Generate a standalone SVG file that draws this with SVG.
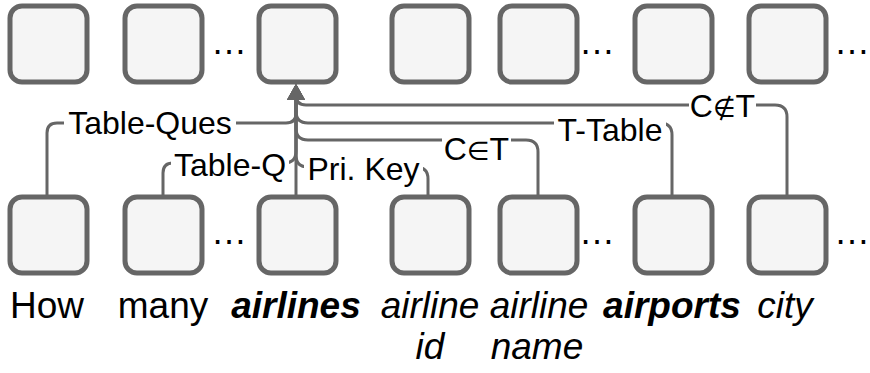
<svg xmlns="http://www.w3.org/2000/svg" width="870" height="373" viewBox="0 0 870 373">
<style>
.box{fill:#f5f5f5;stroke:#666666;stroke-width:5}
.edge{fill:none;stroke:#666666;stroke-width:3;marker-end:url(#arr)}
.lbl{font-family:"Liberation Sans","DejaVu Sans",Arial,sans-serif;font-size:32px;fill:#000;text-anchor:middle}
.sym{font-family:"DejaVu Sans",sans-serif;font-size:26px}
.bg{fill:#ffffff}
.dots{font-family:"Liberation Sans",Arial,sans-serif;font-size:36px;fill:#000}
.word{font-family:"Liberation Sans",Arial,sans-serif;font-size:37px;fill:#000;text-anchor:middle}
.it{font-style:italic}
.bi{font-style:italic;font-weight:bold}
</style>
<defs>
<marker id="arr" markerUnits="userSpaceOnUse" markerWidth="18" markerHeight="18" refX="8" refY="9" orient="auto" viewBox="0 0 16 18">
<path d="M0,0 L16,9 L0,18 z" fill="#666666"/>
</marker>
</defs>
<g id="top-row">
<g id="t1"><rect class="box" x="10" y="6" width="77" height="76" rx="12"/></g>
<g id="t2"><rect class="box" x="125" y="6" width="77" height="76" rx="12"/></g>
<g id="t3"><rect class="box" x="259" y="6" width="77" height="76" rx="12"/></g>
<g id="t4"><rect class="box" x="392" y="6" width="77" height="76" rx="12"/></g>
<g id="t5"><rect class="box" x="500" y="6" width="77" height="76" rx="12"/></g>
<g id="t6"><rect class="box" x="635" y="6" width="77" height="76" rx="12"/></g>
<g id="t7"><rect class="box" x="749" y="6" width="77" height="76" rx="12"/></g>
<text class="dots" x="211" y="54">…</text>
<text class="dots" x="579" y="54">…</text>
<text class="dots" x="834" y="54">…</text>
</g>
<g id="bottom-row">
<g id="b1"><rect class="box" x="10" y="197" width="77" height="76" rx="12"/><text class="word" x="47" y="318">How</text></g>
<g id="b2"><rect class="box" x="125" y="197" width="77" height="76" rx="12"/><text class="word" x="163" y="318">many</text></g>
<g id="b3"><rect class="box" x="259" y="197" width="77" height="76" rx="12"/><text class="word bi" x="296" y="318">airlines</text></g>
<g id="b4"><rect class="box" x="392" y="197" width="77" height="76" rx="12"/><text class="word it" x="430" y="318">airline</text><text class="word it" x="430" y="359">id</text></g>
<g id="b5"><rect class="box" x="500" y="197" width="77" height="76" rx="12"/><text class="word it" x="539" y="318">airline</text><text class="word it" x="537" y="359">name</text></g>
<g id="b6"><rect class="box" x="635" y="197" width="77" height="76" rx="12"/><text class="word bi" x="672" y="318">airports</text></g>
<g id="b7"><rect class="box" x="749" y="197" width="77" height="76" rx="12"/><text class="word it" x="785" y="318">city</text></g>
<text class="dots" x="211" y="244">…</text>
<text class="dots" x="579" y="244">…</text>
<text class="dots" x="834" y="244">…</text>
</g>
<g id="connectors">
<path class="edge" d="M296,195 V92"/>
<path class="edge" d="M47,195 V133 Q47,123 57,123 H286 Q296,123 296,113 V92"/>
<path class="edge" d="M163,195 V173 Q163,163 173,163 H284 Q296,163 296,151 V92"/>
<path class="edge" d="M428,195 V179 Q428,167 416,167 H308 Q296,167 296,155 V92"/>
<path class="edge" d="M538,195 V152 Q538,140 526,140 H308 Q296,140 296,128 V92"/>
<path class="edge" d="M672,195 V135 Q672,123 660,123 H308 Q296,123 296,111 V92"/>
<path class="edge" d="M787,195 V117 Q787,105 775,105 H306 Q296,105 296,95 V92"/>
<g id="labels">
<rect class="bg" x="64" y="108" width="172" height="31"/>
<text class="lbl" x="150" y="134">Table-Ques</text>
<rect class="bg" x="171" y="150" width="118" height="31"/>
<text class="lbl" x="230" y="176">Table-Q</text>
<rect class="bg" x="304" y="153" width="119" height="31"/>
<text class="lbl" x="363.5" y="180">Pri. Key</text>
<rect class="bg" x="442" y="134" width="69" height="31"/>
<text class="lbl" x="476.5" y="160">C<tspan class="sym">∈</tspan>T</text>
<rect class="bg" x="554" y="115" width="112" height="31"/>
<text class="lbl" x="610" y="141">T-Table</text>
<rect class="bg" x="689" y="91" width="67" height="30"/>
<text class="lbl" x="722.5" y="117">C<tspan class="sym">∉</tspan>T</text>
</g>
</g>
</svg>
